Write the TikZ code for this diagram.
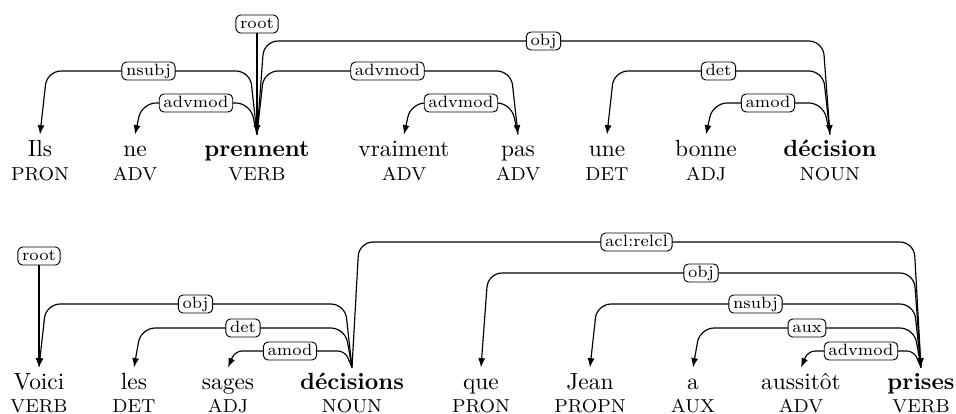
\documentclass[tikz,border=0pt]{standalone}
\usetikzlibrary{calc,arrows.meta}
\tikzset{
  word/.style={anchor=base, inner sep=0pt, outer sep=2.2pt, text height=7pt, font=\normalsize},
  headword/.style={word, font=\normalsize\bfseries},
  postag/.style={anchor=base, inner sep=0pt, font=\footnotesize},
  deplabel/.style={draw, fill=white, rounded corners=2pt, font=\scriptsize,
    inner xsep=1.8pt, inner ysep=0.7pt, text height=4.9pt, text depth=1.4pt, line width=0.4pt},
  depline/.style={line width=0.5pt, rounded corners=6pt, -{Latex[length=4pt,width=3pt]}},
}
% head, dependent, height of the arc (y), relation label
\newcommand\depedge[5][]{%
  \path ($(#2.north)!3pt!(#3.north)$) coordinate (ha)
        ($(#3.north)!3pt!(#2.north)$) coordinate (da);
  \draw[depline,#1] (#2.north) -- (ha |- 0,#4) -- node[deplabel]{#5} (da |- 0,#4) -- (#3.north);
}
\begin{document}
\begin{tikzpicture}[x=0.4274pt, y=-0.4274pt]
\useasboundingbox (0,0) rectangle (956,413);

% first sentence
\node[word]     (ils)      at (40,156)  {Ils};
\node[word]     (ne)       at (135,156) {ne};
\node[headword] (prennent) at (257,156) {prennent};
\node[word]     (vraiment) at (404,156) {vraiment};
\node[word]     (pas)      at (518,156) {pas};
\node[word]     (une)      at (607,156) {une};
\node[word]     (bonne)    at (706,156) {bonne};
\node[headword] (decision) at (830,156) {décision};

\node[postag] (ils-p)      at (40,180)  {PRON};
\node[postag] (ne-p)       at (135,180) {ADV};
\node[postag] (prennent-p) at (257,180) {VERB};
\node[postag] (vraiment-p) at (404,180) {ADV};
\node[postag] (pas-p)      at (518,180) {ADV};
\node[postag] (une-p)      at (607,180) {DET};
\node[postag] (bonne-p)    at (706,180) {ADJ};
\node[postag] (decision-p) at (830,180) {NOUN};

\node[deplabel] (root1) at (257,24) {root};
\draw[depline] (root1) -- (prennent.north);
\depedge{prennent}{ils}{71}{nsubj}
\depedge{prennent}{ne}{103}{advmod}
\depedge{prennent}{pas}{71}{advmod}
\depedge{pas}{vraiment}{103}{advmod}
\depedge{prennent}{decision}{41}{obj}
\depedge{decision}{une}{71}{det}
\depedge{decision}{bonne}{103}{amod}

% second sentence
\node[word]     (voici)     at (39,389)  {Voici};
\node[word]     (les)       at (134,389) {les};
\node[word]     (sages)     at (228,389) {sages};
\node[headword] (decisions) at (352,389) {décisions};
\node[word]     (que)       at (481,389) {que};
\node[word]     (jean)      at (590,389) {Jean};
\node[word]     (aa)        at (693,389) {a};
\node[word]     (aussitot)  at (801,389) {aussitôt};
\node[headword] (prises)    at (921,389) {prises};

\node[postag] (voici-p)     at (39,412)  {VERB};
\node[postag] (les-p)       at (134,412) {DET};
\node[postag] (sages-p)     at (228,412) {ADJ};
\node[postag] (decisions-p) at (352,412) {NOUN};
\node[postag] (que-p)       at (481,412) {PRON};
\node[postag] (jean-p)      at (590,412) {PROPN};
\node[postag] (aa-p)        at (693,412) {AUX};
\node[postag] (aussitot-p)  at (801,412) {ADV};
\node[postag] (prises-p)    at (921,412) {VERB};

\node[deplabel] (root2) at (39,256) {root};
\draw[depline] (root2) -- (voici.north);
\depedge{decisions}{voici}{304}{obj}
\depedge{decisions}{les}{328}{det}
\depedge[rounded corners=3pt]{decisions}{sages}{351}{amod}
\depedge{decisions}{prises}{242}{acl:relcl}
\depedge{prises}{que}{273}{obj}
\depedge{prises}{jean}{304}{nsubj}
\depedge{prises}{aa}{328}{aux}
\depedge[rounded corners=3pt]{prises}{aussitot}{351}{advmod}
\end{tikzpicture}
\end{document}
